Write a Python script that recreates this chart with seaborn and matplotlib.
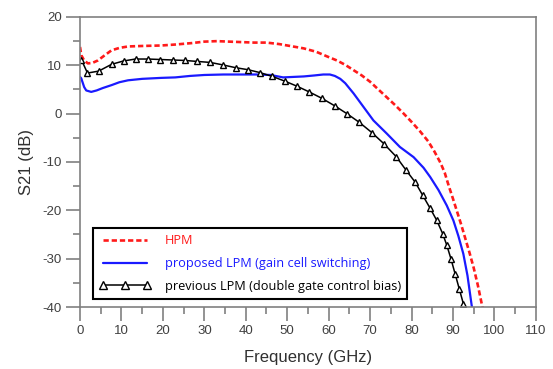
import matplotlib
matplotlib.use("Agg")
import matplotlib.pyplot as plt
import seaborn as sns
import pandas as pd
from matplotlib.ticker import MultipleLocator

# ---- data ----
freq_hpm = [0, 0.3, 1, 1.9, 3, 4.3, 6, 7.6, 9.5, 11.6, 15, 19.6, 23, 27, 30, 33, 36, 39, 42, 45,
            48, 50.7, 54, 57, 60, 62, 64, 66, 68, 70, 72, 74, 76, 78, 80, 82, 84, 85.5, 87,
            88, 89, 90, 91, 92, 93, 94, 95, 96, 97, 97.4]
s21_hpm = [13.8, 12.1, 11.0, 10.4, 10.5, 11.0, 12.1, 13.1, 13.6, 13.9, 14.0, 14.1, 14.3, 14.6, 14.9,
           15.0, 14.9, 14.8, 14.7, 14.7, 14.4, 14.0, 13.5, 12.8, 11.7, 11.0, 10.1, 9.0, 7.9, 6.6,
           5.0, 3.4, 1.8, 0.1, -1.7, -3.6, -5.7, -7.8, -10.2, -12.2, -15.0, -17.6, -20.3, -23.0,
           -25.9, -28.8, -31.9, -35.5, -39.6, -41.0]

freq_prop = [0, 0.3, 1, 1.5, 2.7, 4, 5.5, 7.6, 9.5, 11.6, 15, 19.6, 23, 26.5, 30, 34.6, 38, 42.6,
             46, 49, 51.5, 54, 56.5, 58.7, 60.3, 61.5, 62.8, 64, 66, 68.4, 70.8, 74, 77.2, 80.5,
             82.9, 84.5, 86.5, 88.5, 90.1, 91.3, 92.5, 93.5, 94.5, 94.8]
s21_prop = [7.6, 7.3, 5.5, 4.8, 4.5, 4.8, 5.3, 5.9, 6.5, 6.9, 7.2, 7.4, 7.5, 7.8, 8.0, 8.1, 8.1, 8.1,
            8.0, 7.5, 7.6, 7.7, 7.9, 8.1, 8.1, 7.8, 7.2, 6.3, 4.2, 1.4, -1.4, -4.1, -6.9, -9.0,
            -11.2, -13.1, -15.8, -19.0, -22.1, -25.3, -29.0, -33.5, -39.6, -41.0]

freq_prev = [0.3, 1.8, 4.5, 7.6, 10.5, 13.4, 16.4, 19.4, 22.4, 25.4, 28.3, 31.4, 34.4, 37.6, 40.5,
             43.4, 46.4, 49.5, 52.3, 55.3, 58.3, 61.5, 64.4, 67.4, 70.4, 73.3, 76.3, 78.6, 80.9,
             82.7, 84.5, 86.1, 87.5, 88.5, 89.5, 90.5, 91.5, 92.5, 92.8]
s21_prev = [11.2, 8.4, 8.8, 10.2, 10.9, 11.3, 11.3, 11.2, 11.1, 11.0, 10.8, 10.6, 10.1, 9.5, 9.1,
            8.5, 7.7, 6.7, 5.7, 4.5, 3.2, 1.6, 0.0, -1.8, -3.9, -6.2, -8.9, -11.6, -14.2,
            -16.9, -19.6, -22.1, -24.8, -27.2, -30.0, -33.1, -36.2, -39.3, -41.0]

labels = ["HPM", "proposed LPM (gain cell switching)", "previous LPM (double gate control bias)"]
x_ticks = [0, 10, 20, 30, 40, 50, 60, 70, 80, 90, 100, 110]
y_ticks = [-40, -30, -20, -10, 0, 10, 20]

df_hpm = pd.DataFrame({"f": freq_hpm, "s": s21_hpm})
df_prop = pd.DataFrame({"f": freq_prop, "s": s21_prop})
df_prev = pd.DataFrame({"f": freq_prev, "s": s21_prev})

sns.set_style("white")
plt.rcParams["font.family"] = ["Liberation Sans", "DejaVu Sans"]
plt.rcParams["axes.unicode_minus"] = False
plt.rcParams["legend.handleheight"] = 0.7

fig = plt.figure(figsize=(5.53, 3.69), dpi=100)
ax = fig.add_axes([0.1447, 0.168, 0.969 - 0.1447, 0.954 - 0.168])

sns.lineplot(data=df_hpm, x="f", y="s", ax=ax, color="#ff1a1a", linewidth=1.9,
             linestyle=(0, (2.0, 1.1)), label=labels[0], sort=False, estimator=None)
sns.lineplot(data=df_prop, x="f", y="s", ax=ax, color="#1a1aff", linewidth=1.6,
             label=labels[1], sort=False, estimator=None)
sns.lineplot(data=df_prev, x="f", y="s", ax=ax, color="black", linewidth=1.1,
             marker="^", markersize=4.6, markerfacecolor="white", markeredgecolor="black",
             markeredgewidth=1.0, label=labels[2], sort=False, estimator=None)

ax.set_xlim(0, 110)
ax.set_ylim(-40, 20)
ax.set_xticks(x_ticks)
ax.set_yticks(y_ticks)
ax.xaxis.set_minor_locator(MultipleLocator(5))
ax.yaxis.set_minor_locator(MultipleLocator(5))
ax.tick_params(axis="both", which="major", direction="out", length=10, width=1.2,
               color="#808080", labelsize=9.5, labelcolor="#404040", pad=3,
               bottom=True, left=True)
ax.tick_params(axis="both", which="minor", direction="out", length=5, width=1.2,
               color="#808080", bottom=True, left=True)
for side in ["left", "bottom", "top", "right"]:
    ax.spines[side].set_visible(True)
    ax.spines[side].set_color("#808080")
    ax.spines[side].set_linewidth(1.2)

ax.set_xlabel("Frequency (GHz)", fontsize=12, color="#303030", labelpad=9)
ax.set_ylabel("S21 (dB)", fontsize=12, color="#303030", labelpad=6)

leg = ax.legend(loc="lower left", bbox_to_anchor=(0.0285, 0.0276), borderaxespad=0,
                frameon=True, fancybox=False, framealpha=1, edgecolor="black",
                prop={"family": ["Open Sans", "DejaVu Sans"], "size": 9.2},
                handlelength=4.0, handletextpad=1.1, borderpad=0.5, labelspacing=0.75,
                numpoints=3, markerscale=1.35)
leg.get_frame().set_linewidth(1.5)
text_colors = ["#ff1a1a", "#1a1aff", "black"]
for t, c in zip(leg.get_texts(), text_colors):
    t.set_color(c)

fig.savefig("out.png", dpi=100)
